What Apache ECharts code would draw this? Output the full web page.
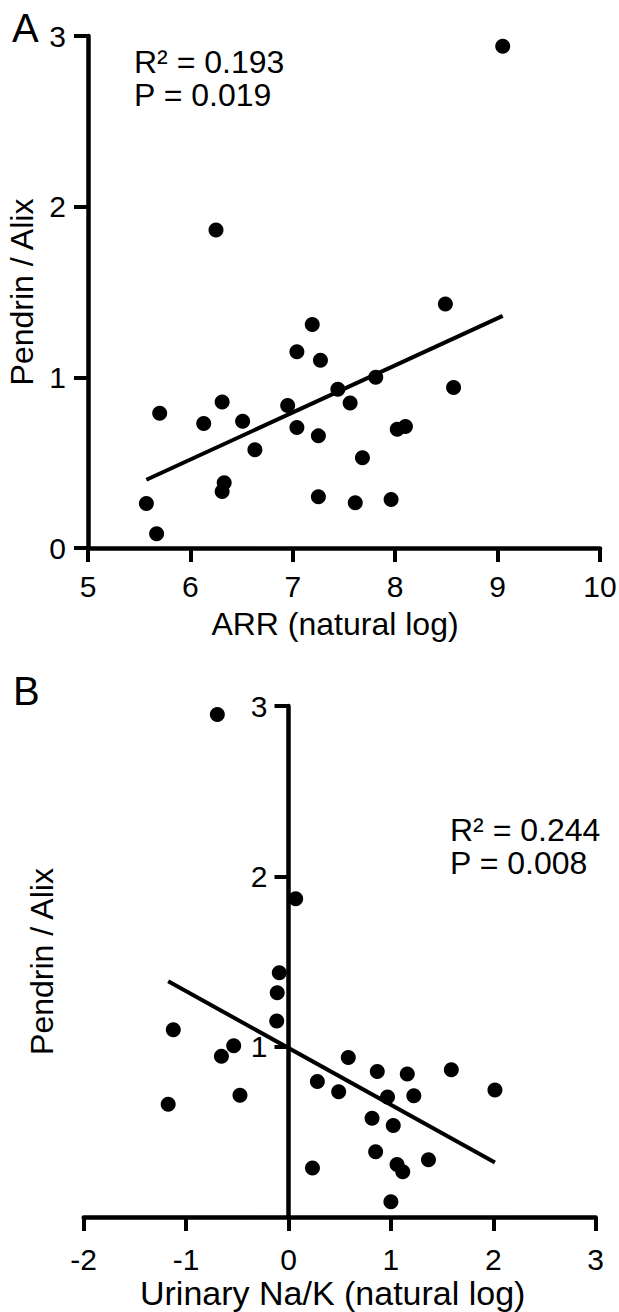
<!DOCTYPE html>
<html>
<head>
<meta charset="utf-8">
<script src="https://cdn.jsdelivr.net/npm/echarts@6/dist/echarts.min.js"></script>
<style>
html,body{margin:0;padding:0;background:#fff;}
#chart{width:619px;height:1312px;}
</style>
</head>
<body>
<div id="chart"></div>
<script>
// ---- Panel A data ----
var arrLog = [8.49, 7.19, 7.04, 7.27, 7.81, 8.57, 7.44, 6.31, 6.95, 7.56, 5.70, 6.13, 6.51, 7.04, 7.25, 8.02, 8.10, 6.63, 7.68, 6.33, 6.31, 7.25, 7.61, 7.96, 5.57, 5.67, 9.05, 6.25];
var pendrinA = [1.43, 1.31, 1.15, 1.10, 1.00, 0.94, 0.93, 0.855, 0.835, 0.85, 0.79, 0.73, 0.743, 0.706, 0.657, 0.696, 0.712, 0.575, 0.529, 0.382, 0.331, 0.30, 0.265, 0.284, 0.261, 0.084, 2.94, 1.863];
var fitAx = [5.57, 9.05];
var fitAy = [0.40, 1.36];
var statsA = ['R\u00B2 = 0.193', 'P = 0.019'];

// ---- Panel B data ----
var naKLog = [-0.695, 0.07, -0.09, -0.11, -0.115, -1.125, -0.535, -0.655, -0.474, -1.175, 0.584, 0.867, 1.16, 1.59, 2.016, 0.282, 0.49, 0.967, 1.224, 0.816, 1.023, 0.851, 1.367, 0.234, 1.06, 1.116, 1.0];
var pendrinB = [2.95, 1.869, 1.434, 1.317, 1.15, 1.099, 1.005, 0.944, 0.715, 0.662, 0.937, 0.854, 0.84, 0.864, 0.746, 0.795, 0.735, 0.705, 0.712, 0.58, 0.537, 0.383, 0.336, 0.288, 0.308, 0.266, 0.09];
var fitBx = [-1.175, 2.016];
var fitBy = [1.384, 0.32];
var statsB = ['R\u00B2 = 0.244', 'P = 0.008'];

var xTicksA = [5, 10, 1];   // min, max, interval
var yTicks = [0, 3, 1];
var xTicksB = [-2, 3, 1];

var FONT = "'Liberation Sans', Arial, sans-serif";

function zip(xs, ys) { return xs.map(function (x, i) { return [x, ys[i]]; }); }

function axisBase(extra) {
  var o = {
    type: 'value',
    splitLine: { show: false },
    axisLine: { show: true, onZero: false, lineStyle: { color: '#000', width: 4.5 } },
    axisTick: { show: true, length: 14, lineStyle: { color: '#000', width: 4 } },
    axisLabel: { color: '#000', fontSize: 30, fontFamily: FONT, hideOverlap: false },
    nameLocation: 'middle',
    nameTextStyle: { color: '#000', fontSize: 32, fontFamily: FONT }
  };
  for (var k in extra) {
    if (typeof extra[k] === 'object' && o[k] && !Array.isArray(extra[k])) {
      o[k] = Object.assign({}, o[k], extra[k]);
    } else o[k] = extra[k];
  }
  return o;
}

var chart = echarts.init(document.getElementById('chart'), null, { renderer: 'svg' });

var option = {
  animation: false,
  backgroundColor: '#fff',
  grid: [
    { left: 88, right: 19, top: 36, bottom: 764, containLabel: false, outerBoundsMode: 'none' },
    { left: 83.7, right: 23.3, top: 706, bottom: 95, containLabel: false, outerBoundsMode: 'none' },
    // grid holding panel B's y axis, whose left edge sits at x = 0 of panel B
    { left: 288.5, right: 23.3, top: 706, bottom: 95, containLabel: false, outerBoundsMode: 'none' }
  ],
  xAxis: [
    axisBase({ gridIndex: 0, min: xTicksA[0], max: xTicksA[1], interval: xTicksA[2],
      name: 'ARR (natural log)', nameGap: 60, axisLabel: { margin: 23 },
      nameTextStyle: { color: '#000', fontSize: 32, fontFamily: FONT, padding: [0, 18, 0, 0] } }),
    axisBase({ gridIndex: 1, min: xTicksB[0], max: xTicksB[1], interval: xTicksB[2],
      name: 'Urinary Na/K (natural log)', nameGap: 59, axisLabel: { margin: 27 },
      nameTextStyle: { color: '#000', fontSize: 34, fontFamily: FONT, padding: [0, 14, 0, 0] } }),
    { type: 'value', gridIndex: 2, min: 0, max: 1, show: false }
  ],
  yAxis: [
    axisBase({ gridIndex: 0, min: yTicks[0], max: yTicks[1], interval: yTicks[2],
      name: 'Pendrin / Alix', nameGap: 50, axisLabel: { margin: 22 } }),
    { type: 'value', gridIndex: 1, min: yTicks[0], max: yTicks[1], interval: yTicks[2], show: false },
    axisBase({ gridIndex: 2, min: yTicks[0], max: yTicks[1], interval: yTicks[2],
      name: 'Pendrin / Alix', nameGap: 231,
      axisLabel: { margin: 21, showMinLabel: false,
        formatter: function (v) { return v === 0 ? '' : String(v); } } })
  ],
  series: [
    { type: 'scatter', xAxisIndex: 0, yAxisIndex: 0, data: zip(arrLog, pendrinA),
      symbol: 'circle', symbolSize: 15, itemStyle: { color: '#000', opacity: 1 }, z: 3 },
    { type: 'line', xAxisIndex: 0, yAxisIndex: 0, data: zip(fitAx, fitAy),
      showSymbol: false, symbol: 'none', lineStyle: { color: '#000', width: 4 }, z: 4 },
    { type: 'scatter', xAxisIndex: 1, yAxisIndex: 1, data: zip(naKLog, pendrinB),
      symbol: 'circle', symbolSize: 15, itemStyle: { color: '#000', opacity: 1 }, z: 3 },
    { type: 'line', xAxisIndex: 1, yAxisIndex: 1, data: zip(fitBx, fitBy),
      showSymbol: false, symbol: 'none', lineStyle: { color: '#000', width: 4 }, z: 4 }
  ],
  graphic: [
    { type: 'text', left: 12, top: 8, style: { text: 'A', font: '40px ' + FONT, fill: '#000' } },
    { type: 'text', left: 13, top: 671, style: { text: 'B', font: '40px ' + FONT, fill: '#000' } },
    { type: 'text', left: 134, top: 46, style: { text: statsA[0], font: '32px ' + FONT, fill: '#000' } },
    { type: 'text', left: 134, top: 79, style: { text: statsA[1], font: '32px ' + FONT, fill: '#000' } },
    { type: 'text', left: 450, top: 814, style: { text: statsB[0], font: '32px ' + FONT, fill: '#000' } },
    { type: 'text', left: 450, top: 847, style: { text: statsB[1], font: '32px ' + FONT, fill: '#000' } }
  ]
};
chart.setOption(option);
</script>
</body>
</html>
